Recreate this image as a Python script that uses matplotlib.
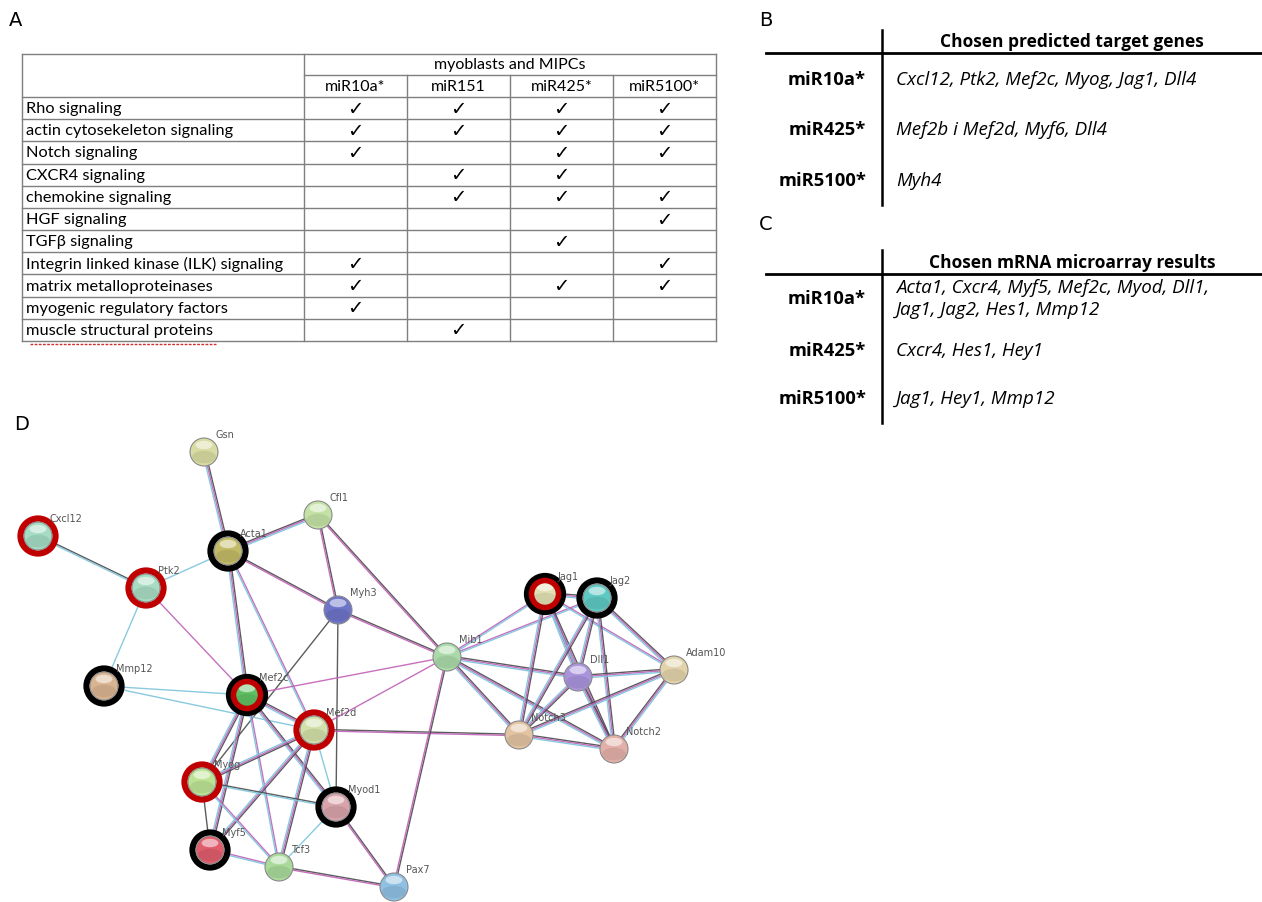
import numpy as np
import matplotlib.pyplot as plt
from matplotlib.patches import Circle, Ellipse

# ---- panel A data ----
pathways = ['Rho signaling', 'actin cytosekeleton signaling', 'Notch signaling',
            'CXCR4 signaling', 'chemokine signaling', 'HGF signaling',
            'TGF\u03b2 signaling', 'Integrin linked kinase (ILK) signaling',
            'matrix metalloproteinases', 'myogenic regulatory factors',
            'muscle structural proteins']
mirnas = ['miR10a*', 'miR151', 'miR425*', 'miR5100*']
checks = [[1, 1, 1, 1],
          [1, 1, 1, 1],
          [1, 0, 1, 1],
          [0, 1, 1, 0],
          [0, 1, 1, 1],
          [0, 0, 0, 1],
          [0, 0, 1, 0],
          [1, 0, 0, 1],
          [1, 0, 1, 1],
          [1, 0, 0, 0],
          [0, 1, 0, 0]]

# ---- panel B / C data ----
b_rows = ['miR10a*', 'miR425*', 'miR5100*']
b_genes = ['Cxcl12, Ptk2, Mef2c, Myog, Jag1, Dll4',
           'Mef2b i Mef2d, Myf6, Dll4',
           'Myh4']
c_rows = ['miR10a*', 'miR425*', 'miR5100*']
c_genes = ['Acta1, Cxcr4, Myf5, Mef2c, Myod, Dll1,\nJag1, Jag2, Hes1, Mmp12',
           'Cxcr4, Hes1, Hey1',
           'Jag1, Hey1, Mmp12']

# ---- panel D network ----
nodes = {
    'Gsn': (204, 452), 'Cxcl12': (38, 536), 'Cfl1': (318, 515),
    'Acta1': (228, 551), 'Ptk2': (146, 588), 'Myh3': (338, 610),
    'Mmp12': (104, 686), 'Mef2c': (247, 695), 'Mef2d': (314, 730),
    'Myog': (202, 782), 'Myod1': (336, 807), 'Myf5': (210, 850),
    'Tcf3': (279, 867), 'Pax7': (394, 887), 'Mib1': (447, 657),
    'Jag1': (545, 594), 'Jag2': (597, 598), 'Dll1': (578, 677),
    'Adam10': (674, 670), 'Notch3': (519, 735), 'Notch2': (614, 749),
}
node_colors = {
    'Gsn': '#d9dca2', 'Cxcl12': '#a4dcc4', 'Cfl1': '#c4e2a6',
    'Acta1': '#c2ba66', 'Ptk2': '#a8dcc2', 'Myh3': '#6e74c8',
    'Mmp12': '#d9b491', 'Mef2c': '#5fbf62', 'Mef2d': '#d2e0aa',
    'Myog': '#bce394', 'Myod1': '#d8a3ab', 'Myf5': '#e05d6c',
    'Tcf3': '#a9da9c', 'Pax7': '#8fc0e2', 'Mib1': '#aadaa9',
    'Jag1': '#e2e0b2', 'Jag2': '#5ec8c2', 'Dll1': '#a994dc',
    'Adam10': '#e2d3ab', 'Notch3': '#e2c3a2', 'Notch2': '#e2b0a8',
}
red_ring = ['Cxcl12', 'Ptk2', 'Mef2d', 'Myog']
black_ring = ['Acta1', 'Mmp12', 'Myod1', 'Myf5', 'Jag2']
both_ring = ['Mef2c', 'Jag1']

edges = [
    ('Gsn', 'Acta1', 'kpb'), ('Cxcl12', 'Ptk2', 'kb'), ('Ptk2', 'Acta1', 'b'),
    ('Ptk2', 'Mmp12', 'b'), ('Ptk2', 'Mef2c', 'p'), ('Acta1', 'Cfl1', 'kpb'),
    ('Acta1', 'Myh3', 'kp'), ('Acta1', 'Mef2c', 'kpb'), ('Acta1', 'Mef2d', 'pb'),
    ('Cfl1', 'Myh3', 'kp'), ('Cfl1', 'Mib1', 'kp'), ('Myh3', 'Mib1', 'kp'),
    ('Myh3', 'Myog', 'k'), ('Myh3', 'Myod1', 'k'),
    ('Mmp12', 'Mef2c', 'b'), ('Mmp12', 'Mef2d', 'b'),
    ('Mef2c', 'Mib1', 'p'), ('Mef2d', 'Mib1', 'p'),
    ('Mef2c', 'Mef2d', 'kpb'), ('Mef2c', 'Myog', 'kpb'), ('Mef2c', 'Myf5', 'kpb'),
    ('Mef2c', 'Myod1', 'kpb'), ('Mef2c', 'Tcf3', 'pb'),
    ('Mef2d', 'Myog', 'kpb'), ('Mef2d', 'Myf5', 'kpb'), ('Mef2d', 'Tcf3', 'kpb'),
    ('Mef2d', 'Myod1', 'b'), ('Mef2d', 'Notch3', 'kp'),
    ('Myog', 'Myf5', 'k'), ('Myog', 'Myod1', 'kb'), ('Myog', 'Tcf3', 'pb'),
    ('Myf5', 'Tcf3', 'pb'), ('Myod1', 'Tcf3', 'b'), ('Myod1', 'Pax7', 'kp'),
    ('Tcf3', 'Pax7', 'kp'), ('Mib1', 'Pax7', 'kp'),
    ('Mib1', 'Jag1', 'pb'), ('Mib1', 'Jag2', 'pb'), ('Mib1', 'Dll1', 'kpb'),
    ('Mib1', 'Notch3', 'kpb'), ('Mib1', 'Notch2', 'kpb'),
    ('Jag1', 'Jag2', 'kpb'), ('Jag1', 'Dll1', 'kpb'), ('Jag1', 'Notch3', 'kpb'),
    ('Jag1', 'Notch2', 'kpb'), ('Jag1', 'Adam10', 'pb'),
    ('Jag2', 'Dll1', 'kpb'), ('Jag2', 'Notch3', 'kpb'), ('Jag2', 'Notch2', 'kpb'),
    ('Jag2', 'Adam10', 'kpb'), ('Dll1', 'Notch3', 'kpb'), ('Dll1', 'Notch2', 'kpb'),
    ('Dll1', 'Adam10', 'kpb'), ('Notch3', 'Notch2', 'kpb'),
    ('Notch3', 'Adam10', 'kpb'), ('Notch2', 'Adam10', 'kpb'),
]

line_col = {'k': '#4a4a4a', 'p': '#c060b8', 'b': '#7cc4dc'}

fig = plt.figure(figsize=(12.62, 9.02), dpi=100)
ax = fig.add_axes([0, 0, 1, 1])
ax.set_xlim(0, 1262)
ax.set_ylim(902, 0)
ax.axis('off')

tfont = 'Lato'

# panel letters
for letter, (lx, ly) in zip('ABCD', [(16, 20), (766, 20), (766, 225), (22, 425)]):
    ax.text(lx, ly, letter, fontsize=14, family='DejaVu Sans', va='center', ha='center')

# ---- panel A table ----
x_left, x_first = 22, 304
col_w = 103
x_cols = [x_first + i * col_w for i in range(5)]
y_top, y_mid, y_head = 54, 75, 97
row_h = (341 - y_head) / len(pathways)
y_rows = [y_head + i * row_h for i in range(len(pathways) + 1)]
lc = '#7f7f7f'
ax.plot([x_left, x_cols[-1]], [y_top, y_top], color=lc, lw=1)
ax.plot([x_first, x_cols[-1]], [y_mid, y_mid], color=lc, lw=1)
for y in y_rows:
    ax.plot([x_left, x_cols[-1]], [y, y], color=lc, lw=1)
ax.plot([x_left, x_left], [y_top, y_rows[-1]], color=lc, lw=1)
ax.plot([x_cols[-1], x_cols[-1]], [y_top, y_rows[-1]], color=lc, lw=1)
ax.plot([x_first, x_first], [y_top, y_rows[-1]], color=lc, lw=1)
for xc in x_cols[1:-1]:
    ax.plot([xc, xc], [y_mid, y_rows[-1]], color=lc, lw=1)
ax.text((x_first + x_cols[-1]) / 2, (y_top + y_mid) / 2 + 1, 'myoblasts and MIPCs',
        fontsize=11.5, family=tfont, ha='center', va='center')
for i, m in enumerate(mirnas):
    ax.text(x_first + (i + 0.5) * col_w, (y_mid + y_head) / 2 + 1, m,
            fontsize=11.5, family=tfont, ha='center', va='center')
for r, name in enumerate(pathways):
    yc = (y_rows[r] + y_rows[r + 1]) / 2 + 1
    ax.text(x_left + 4, yc, name, fontsize=11.8, family=tfont, ha='left', va='center')
    for c in range(4):
        if checks[r][c]:
            ax.text(x_first + (c + 0.5) * col_w, yc, '\u2713', fontsize=14,
                    family='DejaVu Sans', ha='center', va='center')
# spelling squiggle under last row
ax.plot([30, 216], [344, 344], color='#d03030', lw=1, ls=(0, (2, 1)))

# ---- panels B and C ----
def gene_table(y_line, y_vtop, y_vbot, header, rows, genes, y_centers):
    ax.plot([766, 1262], [y_line, y_line], color='black', lw=2)
    ax.plot([882, 882], [y_vtop, y_vbot], color='black', lw=1.8)
    ax.text(1072, y_line - 11, header, fontsize=12.5, family='Open Sans',
            weight='bold', ha='center', va='center')
    for name, g, yc in zip(rows, genes, y_centers):
        ax.text(866, yc, name, fontsize=13.2, family='Open Sans', weight='bold',
                ha='right', va='center')
        ax.text(896, yc, g, fontsize=13.5, family='Open Sans', style='italic',
                ha='left', va='center', linespacing=1.3)

gene_table(53, 30, 205, 'Chosen predicted target genes', b_rows, b_genes, [80, 130, 181])
gene_table(274, 250, 423, 'Chosen mRNA microarray results', c_rows, c_genes, [299, 351, 399])

# ---- panel D network ----
for a, b, kinds in edges:
    (x1, y1), (x2, y2) = nodes[a], nodes[b]
    d = np.array([x2 - x1, y2 - y1], dtype=float)
    n = np.array([-d[1], d[0]]) / np.hypot(*d)
    offs = np.linspace(-(len(kinds) - 1) / 2, (len(kinds) - 1) / 2, len(kinds)) * 1.4
    for k, o in zip(kinds, offs):
        ax.plot([x1 + n[0] * o, x2 + n[0] * o], [y1 + n[1] * o, y2 + n[1] * o],
                color=line_col[k], lw=1.0, alpha=0.9, zorder=2, solid_capstyle='butt')

r_node = 14
for name, (x, y) in nodes.items():
    col = node_colors[name]
    if name in red_ring:
        ax.add_patch(Circle((x, y), r_node + 3.5, fc='none', ec='#c00000', lw=4.5, zorder=3))
    elif name in black_ring:
        ax.add_patch(Circle((x, y), r_node + 3.5, fc='none', ec='black', lw=4.5, zorder=3))
    elif name in both_ring:
        ax.add_patch(Circle((x, y), r_node + 4, fc='none', ec='black', lw=4.5, zorder=3))
        ax.add_patch(Circle((x, y), r_node - 0.5, fc='none', ec='#c00000', lw=4.0, zorder=5))
    ax.add_patch(Circle((x, y), r_node, fc=col, ec='#8a8a8a', lw=0.8, zorder=4))
    ax.add_patch(Ellipse((x, y + 5), 2 * r_node * 0.85, r_node * 0.9, fc='black',
                         alpha=0.08, ec='none', zorder=4))
    ax.add_patch(Ellipse((x, y - r_node * 0.5), r_node * 1.2, r_node * 0.6, fc='white',
                         alpha=0.55, ec='none', zorder=4))
    ax.text(x + 12, y - 17, name, fontsize=7, color='#555555',
            family='DejaVu Sans', ha='left', va='center', zorder=6)

fig.savefig('out.png', dpi=100, facecolor='white')
